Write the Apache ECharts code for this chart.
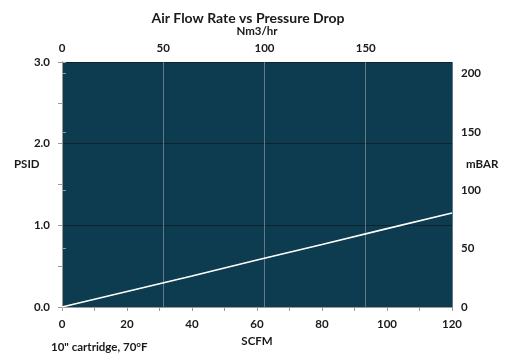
<!DOCTYPE html>
<html><head><meta charset="utf-8">
<script src="https://cdn.jsdelivr.net/npm/echarts@6/dist/echarts.min.js"></script>
<style>html,body{margin:0;padding:0;background:#fff}#c{width:510px;height:354px}</style>
</head><body><div id="c"></div>
<script>
const scfm = [0, 20, 40, 60, 80, 100, 120];
const psid = [0, 0.19, 0.38, 0.575, 0.765, 0.96, 1.15];
const topTicks = [0, 50, 100, 150];
const rightTicks = [0, 50, 100, 150, 200];
const titleText = 'Air Flow Rate vs Pressure Drop';
const noteText = '10" cartridge, 70°F';

const FONT = 'Lato';
const lbl = {fontFamily: FONT, fontWeight: 'bold', fontSize: 11.5, color: '#1a1a1a'};
const chart = echarts.init(document.getElementById('c'));
const fmtIn = arr => v => arr.indexOf(Math.round(v*1000)/1000) >= 0 ? String(v) : '';
chart.setOption({
  animation: false,
  title: {text: titleText, left: 243, top: 6, textAlign: 'center',
    textStyle: {fontFamily: FONT, fontWeight: 'bold', fontSize: 14, color: '#1a1a1a'}},
  grid: {left: 62, right: 58, top: 62, bottom: 47, show: true, backgroundColor: '#0d3b50', borderWidth: 0},
  xAxis: [
    {type: 'value', position: 'bottom', min: 0, max: 120, interval: 20,
     axisLine: {show: true, lineStyle: {color: '#9a9a9a'}},
     axisTick: {show: true, inside: false, length: 4, lineStyle: {color: '#9a9a9a'}},
     minorTick: {show: true, splitNumber: 2, length: 4, lineStyle: {color: '#9a9a9a'}},
     splitLine: {show: false},
     axisLabel: Object.assign({margin: 11, formatter: v => v.toFixed(0)}, lbl),
     name: 'SCFM', nameLocation: 'middle', nameGap: 27, nameTextStyle: lbl},
    {type: 'value', position: 'top', min: 0, max: 192.6, interval: 50,
     axisLine: {show: false}, axisTick: {show: false},
     splitLine: {show: true, lineStyle: {color: '#5f7a86', width: 1}},
     axisLabel: Object.assign({margin: 8, formatter: fmtIn(topTicks)}, lbl),
     name: 'Nm3/hr', nameLocation: 'middle', nameGap: 23, nameTextStyle: lbl}
  ],
  yAxis: [
    {type: 'value', position: 'left', min: 0, max: 3, interval: 1,
     axisLine: {show: true, lineStyle: {color: '#9a9a9a'}},
     axisTick: {show: true, inside: false, length: 4, lineStyle: {color: '#9a9a9a'}},
     minorTick: {show: true, splitNumber: 2, length: 4, lineStyle: {color: '#9a9a9a'}},
     splitLine: {show: true, lineStyle: {color: '#0a2530', width: 1}},
     axisLabel: Object.assign({margin: 12, formatter: v => v.toFixed(1)}, lbl)},
    {type: 'value', position: 'right', min: 0, max: 210, interval: 50,
     axisLine: {show: true, lineStyle: {color: '#9a9a9a'}},
     axisTick: {show: true, length: 4, lineStyle: {color: '#9a9a9a'}},
     splitLine: {show: false},
     axisLabel: Object.assign({margin: 9, formatter: fmtIn(rightTicks)}, lbl)}
  ],
  graphic: [
    {type: 'text', left: 14, top: 158, style: {text: 'PSID', fill: '#1a1a1a', font: 'bold 11.5px Lato'}},
    {type: 'text', left: 466, top: 158, style: {text: 'mBAR', fill: '#1a1a1a', font: 'bold 11.5px Lato'}},
    {type: 'text', left: 51, top: 341, style: {text: noteText, fill: '#1a1a1a', font: 'bold 11.5px Lato'}}
  ],
  series: [{type: 'line', xAxisIndex: 0, yAxisIndex: 0, showSymbol: false,
    data: scfm.map((x, i) => [x, psid[i]]),
    lineStyle: {color: '#ffffff', width: 1.6}}]
});
</script></body></html>
